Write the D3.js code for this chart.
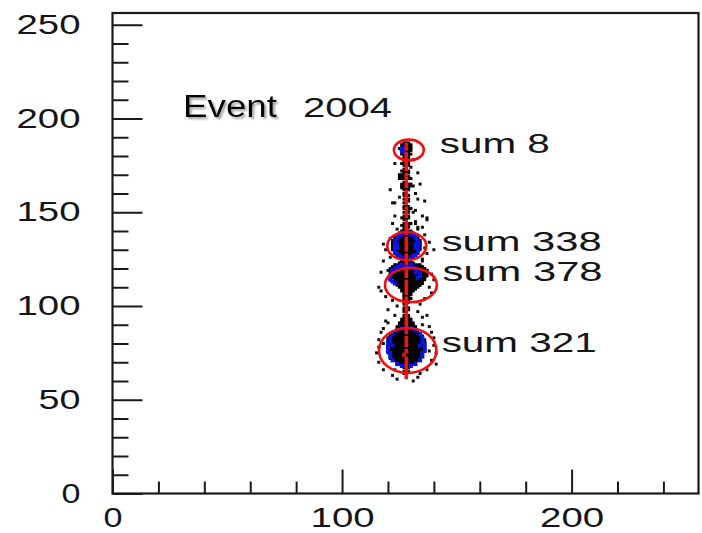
<!DOCTYPE html>
<html>
<head>
<meta charset="UTF-8">
<script src="https://cdn.jsdelivr.net/npm/d3@7/dist/d3.min.js"></script>
<style>
  body { margin: 0; background: #fff; }
  text { font-family: 'Liberation Sans', Arial, sans-serif; fill: #151515; }
  .tick line { stroke: #1a1a1a; stroke-width: 2; }
</style>
</head>
<body>
<svg id="chart" width="702" height="533"></svg>
<script>
// hits of event 2004, detector pixels (x, y)
var redHits = [[128,62],[128,64],[128,66],[128,68],[128,70],[128,72],[127,74],[128,76],[128,79],[128,81],
  [128,83],[128,86],[128,88],[128,90],[128,92],[128,94],[128,96],[128,98],[128,100],[128,102],[128,104],
  [128,107],[128,109],[128,111],[128,113],[128,116],[128,118],[128,120],[128,123],[128,125],[128,127],
  [128,130],[128,132],[128,134],[128,136],[128,139],[128,141],[128,143],[128,145],[128,148],[128,150],
  [128,152],[128,155],[128,157],[128,159],[128,161],[128,164],[128,166],[128,168],[128,170],[128,173],
  [128,175],[128,177],[128,179],[128,181],[128,184],[128,186]];

// dense rows of black hits: [y, x from, x to]
var blackRuns = [
  [187,127,129],[186,126,130],[185,126,130],[184,125,130],[183,126,130],[182,126,129],[181,126,130],[180,127,129],[179,127,129],
  [178,127,128],[177,127,129],[176,126,129],[175,127,129],[173,127,128],[172,126,129],[171,127,129],[170,125,128],[169,125,129],
  [168,125,130],[166,127,128],[165,126,130],[164,126,131],[163,126,129],[162,127,129],[160,127,128],[159,127,129],[157,127,129],
  [156,128,129],[155,127,128],[153,127,129],[152,127,130],[151,128,129],[150,127,129],[148,127,129],[147,126,129],[146,127,128],
  [144,127,130],[143,126,129],[142,127,129],[141,127,128],
  [140,126,130],[139,125,131],[138,124,132],[137,123,133],[136,123,133],[135,122,134],[134,122,134],[133,122,134],[132,122,134],
  [131,122,134],[130,122,134],[129,123,133],[128,123,133],[127,124,132],[126,125,131],[125,126,130],
  [124,126,130],[123,125,131],
  [122,123,134],[121,122,135],[120,121,136],[119,121,137],[118,121,137],[117,121,137],[116,122,137],[115,122,136],[114,123,136],
  [113,123,135],[112,124,135],[111,124,134],[110,125,133],[109,126,132],[108,126,131],[107,127,130],[106,127,130],
  [105,127,129],[104,127,130],[103,127,129],[102,127,129],[101,127,128],[99,127,129],[98,127,129],[97,127,128],[95,127,129],
  [94,127,129],[93,126,130],[92,126,130],[91,125,131],[90,125,131],[89,124,132],[88,124,132],
  [87,124,132],[86,122,133],[85,121,134],[84,121,135],[83,120,135],[82,120,136],[81,120,136],[80,120,136],[79,120,136],
  [78,120,136],[77,120,136],[76,120,136],[75,120,135],[74,121,135],[73,121,134],[72,122,134],[71,123,133],[70,124,132],
  [69,125,131],[68,126,130],[67,127,129],[65,127,129],[64,127,128]];

// isolated black hits
var blackHits = [[133,171],[132,160],[122,155],[132,151],[123,176],[131,178],[134,165],[121,162],[132,145],[123,148],
  [136,156],[125,158],[130,174],[133,142],[122,144],[133,157],[137,146],[135,148],[131,150],[135,142],[129,143],
  [118,133],[121,136],[136,138],[137,128],[119,130],[135,125],[121,126],[138,134],[124,141],[133,141],[118,124],
  [136,131],[137,147],[140,130],[135,124],[132,144],[123,155],
  [117,118],[139,117],[116,110],[138,110],[119,105],[136,104],[120,98],[140,114],[122,103],[134,101],[117,108],
  [137,119],[124,100],[133,97],[123,95],[135,94],[119,92],[137,95],[120,119],[139,107],
  [116,82],[116,78],[116,70],[118,66],[139,86],[140,79],[139,71],[137,66],[120,91],[135,90],[122,63],[133,62],
  [115,75],[141,75],[118,88],[138,89],[121,72],[134,64],[124,61],[131,60],[140,83],[117,86],[123,66],[141,69],
  [118,80],[138,76]];

var blueHits = [[126,183],[127,183],[126,184],[127,184],[127,182],
  [123,133],[123,131],[123,135],[124,137],[125,138],[127,139],[129,139],[131,138],[132,137],[133,135],[134,133],
  [133,131],[133,129],[132,127],[130,126],[128,126],[126,126],[124,128],[123,129],[124,136],[132,136],[124,133],
  [124,131],[132,133],[132,131],[126,138],[130,138],[125,127],[131,127],
  [121,114],[121,116],[122,118],[122,119],[123,120],[124,121],[126,122],[128,122],[130,122],[131,121],[132,120],
  [133,119],[134,117],[133,115],[122,113],[121,115],[125,121],[129,121],[127,121],[132,118],[123,112],[134,116],
  [120,78],[120,80],[120,76],[121,83],[121,73],[122,85],[122,71],[124,87],[124,69],[126,88],[126,68],[128,88],
  [128,68],[130,88],[130,68],[132,87],[132,69],[134,85],[134,71],[135,83],[135,73],[136,80],[136,78],[136,76],
  [121,81],[121,75],[135,81],[135,75],[122,79],[134,79]];

// found clusters: centre, half axes, sum and where the sum is written (pixel units)
var clusterX = [129.1, 128.2, 130.0, 128.6];
var clusterY = [183.2, 132.0, 111.2, 76.3];
var clusterRx = [6.5, 8.5, 11.3, 12.5];
var clusterRy = [5.6, 7.5, 9.1, 12.0];
var clusterSum = [8, 338, 378, 321];
var labelX = [142.6, 143.4, 143.8, 143.4];
var labelY = [181.6, 129.1, 113.1, 75.7];

var xMajor = [0, 100, 200];
var xMinor = [20, 40, 60, 80, 120, 140, 160, 180, 220, 240];
var yMajor = [0, 50, 100, 150, 200, 250];
var yMinor = [10, 20, 30, 40, 60, 70, 80, 90, 110, 120, 130, 140, 160, 170, 180, 190, 210, 220, 230, 240];

var svg = d3.select("#chart");
var x = d3.scaleLinear().domain([0, 255.5]).range([112.5, 699]);
var y = d3.scaleLinear().domain([0, 256]).range([493.5, 13.5]);

var labelWidth = { 1: 19, 2: 42, 3: 64 };

// axes, ticks pointing into the frame
svg.append("g").attr("transform", "translate(112.5,0)")
  .call(d3.axisLeft(y).tickValues(yMinor).tickSizeInner(-16).tickSizeOuter(0).tickFormat(""));
var yAx = svg.append("g").attr("transform", "translate(112.5,0)")
  .call(d3.axisLeft(y).tickValues(yMajor).tickSizeInner(-30).tickSizeOuter(0).tickPadding(32));
svg.append("g").attr("transform", "translate(0,493.5)")
  .call(d3.axisBottom(x).tickValues(xMinor).tickSizeInner(-12).tickSizeOuter(0).tickFormat(""));
var xAx = svg.append("g").attr("transform", "translate(0,493.5)")
  .call(d3.axisBottom(x).tickValues(xMajor).tickSizeInner(-24).tickSizeOuter(0).tickPadding(14));
svg.selectAll(".domain").remove();

[yAx, xAx].forEach(function (ax) {
  ax.selectAll("text")
    .style("font-size", "27px")
    .attr("fill", "#151515")
    .attr("textLength", function (d) { return labelWidth[String(d).length]; })
    .attr("lengthAdjust", "spacingAndGlyphs");
});

svg.append("rect")
  .attr("x", 112.5).attr("y", 13)
  .attr("width", 586).attr("height", 480.5)
  .attr("fill", "none").attr("stroke", "#1a1a1a").attr("stroke-width", 2.2);

// hits
var plot = svg.append("g");
plot.selectAll(".run").data(blackRuns).enter().append("rect")
  .attr("x", function (d) { return x(d[1]) - 1.5; })
  .attr("y", function (d) { return y(d[0]) - 1.5; })
  .attr("width", function (d) { return x(d[2]) - x(d[1]) + 3; })
  .attr("height", 3)
  .attr("fill", "#000");
plot.selectAll(".blk").data(blackHits).enter().append("rect")
  .attr("x", function (d) { return x(d[0]) - 1.5; })
  .attr("y", function (d) { return y(d[1]) - 1.5; })
  .attr("width", 3).attr("height", 3)
  .attr("fill", "#111");
plot.selectAll(".blu").data(blueHits).enter().append("rect")
  .attr("x", function (d) { return x(d[0]) - 2; })
  .attr("y", function (d) { return y(d[1]) - 2; })
  .attr("width", 4).attr("height", 4)
  .attr("fill", "#0a14e6");
plot.selectAll(".red").data(redHits).enter().append("rect")
  .attr("x", function (d) { return x(d[0]) - 1.8; })
  .attr("y", function (d) { return y(d[1]) - 2; })
  .attr("width", 3.6).attr("height", 4)
  .attr("fill", "#f01414");

// cluster ellipses and sums
plot.selectAll("ellipse").data(clusterX).enter().append("ellipse")
  .attr("cx", function (d) { return x(d); })
  .attr("cy", function (d, i) { return y(clusterY[i]); })
  .attr("rx", function (d, i) { return x(d + clusterRx[i]) - x(d); })
  .attr("ry", function (d, i) { return y(clusterY[i]) - y(clusterY[i] + clusterRy[i]); })
  .attr("fill", "none").attr("stroke", "#ee1010").attr("stroke-width", 2.6);

svg.selectAll(".sum").data(clusterSum).enter().append("text")
  .attr("x", function (d, i) { return x(labelX[i]); })
  .attr("y", function (d, i) { return y(labelY[i]); })
  .style("font-size", "28px")
  .attr("textLength", function (d) { return String(d).length === 1 ? 110 : (d === 321 ? 155 : 160); })
  .attr("lengthAdjust", "spacingAndGlyphs")
  .text(function (d) { return "sum " + d; });

// title, with its soft grey shadow
var defs = svg.append("defs");
defs.append("filter").attr("id", "shadow")
  .append("feDropShadow").attr("dx", 2).attr("dy", 2).attr("stdDeviation", 1.2)
  .attr("flood-color", "#888").attr("flood-opacity", 0.8);
svg.append("text").attr("x", 183).attr("y", 117)
  .style("font-size", "31px").style("fill", "#000").attr("filter", "url(#shadow)")
  .attr("textLength", 94).attr("lengthAdjust", "spacingAndGlyphs").text("Event");
svg.append("text").attr("x", 303).attr("y", 117)
  .style("font-size", "27px")
  .attr("textLength", 89).attr("lengthAdjust", "spacingAndGlyphs").text("2004");
</script>
</body>
</html>
